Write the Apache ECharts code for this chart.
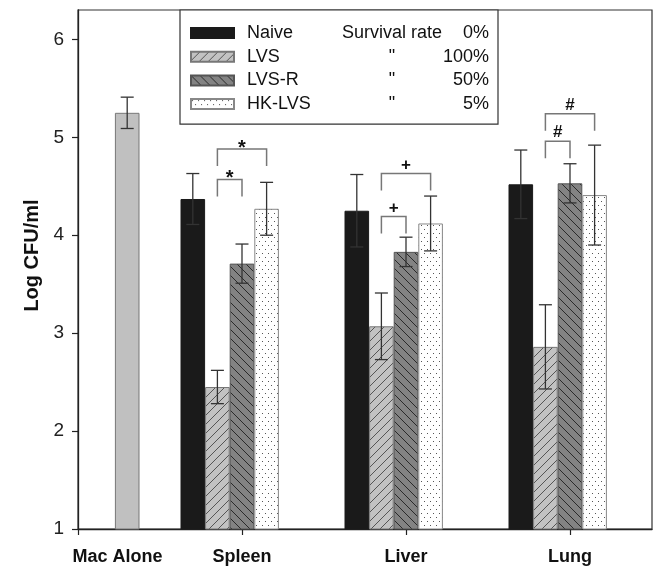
<!DOCTYPE html>
<html>
<head>
<meta charset="utf-8">
<script src="https://cdn.jsdelivr.net/npm/echarts@6/dist/echarts.min.js"></script>
<style>
  html, body { margin: 0; padding: 0; background: #fff; }
  #chart { width: 657px; height: 567px; }
</style>
</head>
<body>
<div id="chart"></div>
<script>
const categories = ['Mac Alone', 'Spleen', 'Liver', 'Lung'];
const groupNames = ['Naive', 'LVS', 'LVS-R', 'HK-LVS'];
const survivalRates = ['0%', '100%', '50%', '5%'];

const macAloneMean = [5.25];
const macAloneErr = [0.16];

// Spleen, Liver, Lung
const naiveMean = [4.37, 4.25, 4.52];
const naiveErr = [0.26, 0.37, 0.35];
const lvsMean = [2.45, 3.07, 2.86];
const lvsErr = [0.17, 0.34, 0.43];
const lvsrMean = [3.71, 3.83, 4.53];
const lvsrErr = [0.20, 0.15, 0.20];
const hkMean = [4.27, 4.12, 4.41];
const hkErr = [0.27, 0.28, 0.51];

// [organ index in categories, from group, to group, bracket height, mark]
const brackets = [
  [1, 1, 2, 4.57, '*'],
  [1, 1, 3, 4.88, '*'],
  [2, 1, 2, 4.19, '+'],
  [2, 1, 3, 4.63, '+'],
  [3, 1, 2, 4.96, '#'],
  [3, 1, 3, 5.24, '#'],
];

const font = '"Liberation Sans", Arial, sans-serif';
const groupOffset = [-0.3, -0.15, 0, 0.15];
const macAlonePos = 0.3;
const barPx = 24.6;

function hatch(bg, line, up, size) {
  const c = document.createElement('canvas');
  c.width = c.height = size;
  const g = c.getContext('2d');
  g.fillStyle = bg;
  g.fillRect(0, 0, size, size);
  g.strokeStyle = line;
  g.lineWidth = 1;
  g.beginPath();
  if (up) {
    g.moveTo(0, size); g.lineTo(size, 0);
    g.moveTo(-2, 2); g.lineTo(2, -2);
    g.moveTo(size - 2, size + 2); g.lineTo(size + 2, size - 2);
  } else {
    g.moveTo(0, 0); g.lineTo(size, size);
    g.moveTo(size - 2, -2); g.lineTo(size + 2, 2);
    g.moveTo(-2, size - 2); g.lineTo(2, size + 2);
  }
  g.stroke();
  return { image: c, repeat: 'repeat' };
}

function dots() {
  const c = document.createElement('canvas');
  c.width = 6; c.height = 8;
  const g = c.getContext('2d');
  g.fillStyle = '#fff';
  g.fillRect(0, 0, 6, 8);
  g.fillStyle = '#555';
  g.fillRect(1, 1, 1, 1);
  g.fillRect(4, 5, 1, 1);
  return { image: c, repeat: 'repeat' };
}

const fills = [
  '#1a1a1a',
  hatch('#c2c2c2', '#555', true, 9),
  hatch('#838383', '#2a2a2a', false, 9),
  dots(),
];
const borders = ['#1a1a1a', '#777', '#555', '#888'];

const means = [naiveMean, lvsMean, lvsrMean, hkMean];
const errs = [naiveErr, lvsErr, lvsrErr, hkErr];

const barSeries = groupNames.map((name, g) => ({
  name,
  type: 'bar',
  barWidth: barPx,
  barGap: '-100%',
  itemStyle: { color: fills[g], borderColor: borders[g], borderWidth: 1 },
  data: means[g].map((v, i) => [i + 1 + groupOffset[g], v]),
}));

const errData = [[macAlonePos, macAloneMean[0], macAloneErr[0]]];
groupNames.forEach((_, g) => {
  means[g].forEach((v, i) => errData.push([i + 1 + groupOffset[g], v, errs[g][i]]));
});

const markDy = { '*': -1, '+': -8, '#': -8.5 };

const chart = echarts.init(document.getElementById('chart'), null, { renderer: 'canvas' });

const legendText = { fontFamily: font, fontSize: 18, color: '#111' };

chart.setOption({
  animation: false,
  backgroundColor: '#fff',
  grid: {
    left: 78, right: 5, top: 10, bottom: 38,
    show: true, borderColor: '#333', borderWidth: 1.2,
    outerBoundsMode: 'none',
  },
  legend: {
    data: groupNames,
    orient: 'vertical',
    left: 180,
    top: 10,
    padding: [13, 9, 10, 10],
    itemWidth: 43,
    itemHeight: 10,
    itemGap: 3.7,
    icon: 'rect',
    selectedMode: false,
    borderColor: '#333',
    borderWidth: 1.2,
    backgroundColor: '#fff',
    formatter: name => {
      const i = groupNames.indexOf(name);
      return `{n|${name}}{s|${i === 0 ? 'Survival rate' : '"'}}{p|${survivalRates[i]}}`;
    },
    textStyle: {
      ...legendText, lineHeight: 20,
      rich: {
        n: { ...legendText, width: 90, padding: [0, 0, 0, 8] },
        s: { ...legendText, width: 110, align: 'center' },
        p: { ...legendText, width: 42, align: 'right' },
      },
    },
  },
  xAxis: {
    type: 'value',
    min: 0,
    max: 3.5,
    interval: 1,
    splitLine: { show: false },
    axisLine: { lineStyle: { color: '#222', width: 1.3 } },
    axisTick: { length: 6, lineStyle: { color: '#222', width: 1.2 } },
    axisLabel: {
      margin: 19,
      showMaxLabel: false,
      fontFamily: font, fontSize: 18, fontWeight: 'bold', color: '#111',
      formatter: v => (v === 0 ? '{m|' + categories[0] + '}' : (categories[v] || '')),
      rich: {
        m: { padding: [0, 0, 0, 79], fontFamily: font, fontSize: 18, fontWeight: 'bold', color: '#111' },
      },
    },
  },
  yAxis: {
    type: 'value',
    min: 1,
    max: 6.3,
    interval: 1,
    name: 'Log CFU/ml',
    nameLocation: 'middle',
    nameGap: 33,
    nameTextStyle: {
      fontFamily: font, fontSize: 20, fontWeight: 'bold', color: '#111',
      padding: [0, 0, 0, 28],
    },
    splitLine: { show: false },
    axisLine: { lineStyle: { color: '#222', width: 1.3 } },
    axisTick: { length: 6, lineStyle: { color: '#222', width: 1.2 } },
    axisLabel: { margin: 14, showMaxLabel: false, fontFamily: font, fontSize: 19, color: '#222' },
  },
  series: [
    {
      name: 'Mac Alone',
      type: 'bar',
      barWidth: barPx,
      barGap: '-100%',
      itemStyle: { color: '#c0c0c0', borderColor: '#777', borderWidth: 1 },
      data: [[macAlonePos, macAloneMean[0]]],
    },
    ...barSeries,
    {
      type: 'custom',
      name: 'errors',
      silent: true,
      z: 5,
      data: errData,
      renderItem: (params, api) => {
        const x = api.value(0), m = api.value(1), e = api.value(2);
        const top = api.coord([x, m + e]);
        const bot = api.coord([x, m - e]);
        const hw = 6.5;
        const st = { stroke: '#333', lineWidth: 1.3 };
        return {
          type: 'group',
          children: [
            { type: 'line', shape: { x1: top[0], y1: top[1], x2: bot[0], y2: bot[1] }, style: st },
            { type: 'line', shape: { x1: top[0] - hw, y1: top[1], x2: top[0] + hw, y2: top[1] }, style: st },
            { type: 'line', shape: { x1: bot[0] - hw, y1: bot[1], x2: bot[0] + hw, y2: bot[1] }, style: st },
          ],
        };
      },
    },
    {
      type: 'custom',
      name: 'brackets',
      silent: true,
      z: 6,
      data: brackets.map(b => [b[0] + groupOffset[b[1]], b[0] + groupOffset[b[2]], b[3]]),
      renderItem: (params, api) => {
        const mark = brackets[params.dataIndex][4];
        const l = api.coord([api.value(0), api.value(2)]);
        const r = api.coord([api.value(1), api.value(2)]);
        const leg = 17;
        return {
          type: 'group',
          children: [
            {
              type: 'polyline',
              shape: { points: [[l[0], l[1] + leg], [l[0], l[1]], [r[0], l[1]], [r[0], l[1] + leg]] },
              style: { stroke: '#777', lineWidth: 1.5, fill: null },
            },
            {
              type: 'text',
              x: (l[0] + r[0]) / 2,
              y: l[1] + markDy[mark],
              style: {
                text: mark,
                align: 'center',
                verticalAlign: 'middle',
                font: `bold ${mark === '*' ? 20 : 17}px ${font}`,
                fill: '#111',
              },
            },
          ],
        };
      },
    },
  ],
});
</script>
</body>
</html>
